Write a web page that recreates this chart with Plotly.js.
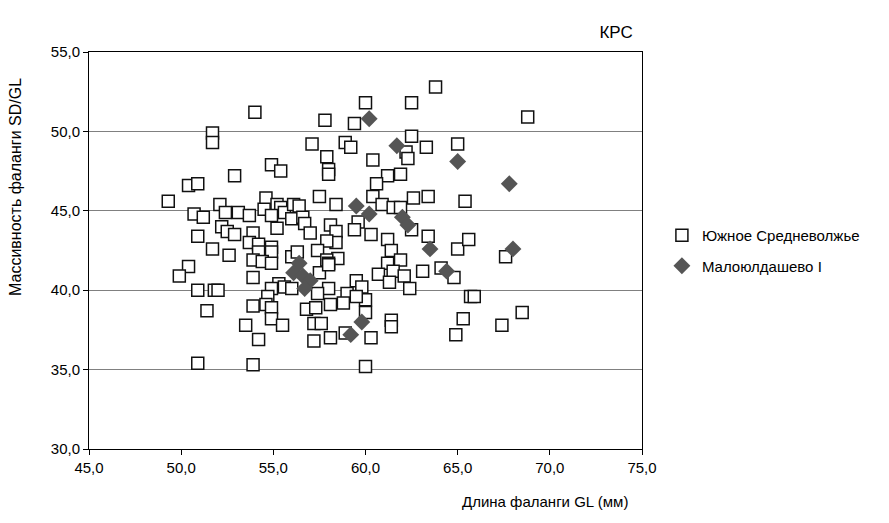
<!DOCTYPE html>
<html>
<head>
<meta charset="utf-8">
<script src="https://cdn.plot.ly/plotly-3.0.1.min.js"></script>
<style>html,body{margin:0;padding:0;background:#fff}#chart{width:889px;height:523px}</style>
</head>
<body>
<div id="chart"></div>
<script>
// Южное Средневолжье
var svX = [54.0,57.8,51.7,51.7,57.1,57.9,54.9,55.4,52.9,50.4,50.9,57.5,49.3,63.8,60.0,62.5,59.4,62.5,58.9,59.2,
62.2,62.3,63.3,65.0,58.0,58.0,60.4,61.2,61.9,60.6,60.4,62.6,63.4,65.4,68.8,52.1,54.6,55.2,55.4,55.6,
56.1,56.4,52.4,53.1,53.7,54.5,54.9,56.0,55.2,52.2,52.5,52.9,53.9,53.7,54.2,54.9,52.6,54.2,54.9,53.9,
54.4,54.9,56.0,50.7,51.2,50.9,51.7,50.4,49.9,56.6,56.7,57.0,58.4,58.1,58.4,59.6,59.4,58.4,57.9,56.3,
57.4,58.5,57.9,58.0,60.9,61.5,61.9,60.3,62.5,61.2,61.4,63.4,65.0,65.6,67.6,61.2,61.9,60.7,61.5,62.1,
61.3,63.1,64.1,64.8,59.5,59.8,58.0,59.0,58.1,58.8,60.0,60.0,62.4,65.7,65.9,53.9,55.3,55.6,56.0,54.9,
54.7,50.9,51.8,52.0,57.5,58.0,57.4,59.5,56.8,57.3,51.4,53.9,54.6,54.9,54.9,55.5,53.5,54.2,57.2,57.6,
57.2,58.1,58.9,61.4,61.4,65.3,67.4,68.5,64.9,60.3,60.0,50.9,53.9];
var svY = [51.2,50.7,49.9,49.3,49.2,48.4,47.9,47.5,47.2,46.6,46.7,45.9,45.6,52.8,51.8,51.8,50.5,49.7,49.3,49.0,
48.7,48.3,49.0,49.2,47.6,47.3,48.2,47.2,47.3,46.7,45.9,45.8,45.9,45.6,50.9,45.4,45.8,45.4,45.2,44.9,
45.4,45.3,44.9,44.9,44.7,45.1,44.7,44.5,43.9,44.0,43.7,43.5,43.6,43.0,42.9,42.7,42.2,42.4,42.4,41.9,
41.8,41.7,42.1,44.8,44.6,43.4,42.6,41.5,40.9,44.6,44.2,43.6,45.4,44.1,43.7,44.3,43.8,43.0,43.1,42.4,
42.5,42.0,41.9,41.7,45.4,45.2,45.2,43.5,43.8,43.2,42.5,43.4,42.6,43.2,42.1,41.7,41.9,41.0,41.2,40.9,
40.5,41.2,41.4,40.8,40.6,40.2,40.1,39.8,39.1,39.2,39.4,38.6,40.1,39.6,39.6,40.8,40.4,40.2,40.1,40.1,
39.6,40.0,40.0,40.0,41.1,41.6,39.8,39.6,38.8,38.9,38.7,39.0,39.1,38.9,38.2,37.8,37.8,36.9,37.9,37.9,
36.8,37.0,37.3,38.1,37.7,38.2,37.8,38.6,37.2,37.0,35.2,35.4,35.3];
// Малоюлдашево I
var mlX = [60.2,61.7,65.0,67.8,59.5,60.2,62.0,62.3,63.5,64.4,68.0,59.8,59.2,56.4,56.1,56.6,57.0,56.7];
var mlY = [50.8,49.1,48.1,46.7,45.3,44.8,44.6,44.1,42.6,41.2,42.6,38.0,37.2,41.7,41.1,40.9,40.6,40.1];
var seriesNames = ['Южное Средневолжье', 'Малоюлдашево I'];
var xTitle = 'Длина фаланги GL (мм)';
var yTitle = 'Массивность фаланги SD/GL';
var chartTitle = 'КРС';

var font = 'Arial, "Liberation Sans", sans-serif';
var traces = [
  {x: svX, y: svY, type: 'scatter', mode: 'markers', name: seriesNames[0], legendgroup: 'a',
   marker: {symbol: 'square', size: 12, color: '#ffffff', line: {color: '#111111', width: 1.5}}},
  {x: mlX, y: mlY, type: 'scatter', mode: 'markers', name: seriesNames[1], legendgroup: 'b',
   marker: {symbol: 'diamond', size: 13, color: '#555555', line: {width: 0}}}
];
var axisCommon = {showline: true, mirror: true, linecolor: '#000', linewidth: 1, ticks: 'outside',
  ticklen: 5, tickcolor: '#000', tickformat: '.1f', zeroline: false, automargin: false,
  tickfont: {family: font, size: 15, color: '#000'}};
var layout = {
  width: 889, height: 523,
  margin: {l: 89, r: 247, t: 52, b: 74, autoexpand: false},
  paper_bgcolor: '#fff', plot_bgcolor: '#fff',
  separators: ', ',
  showlegend: true,
  title: {text: chartTitle, font: {family: font, size: 17, color: '#000'}, xref: 'container', yref: 'container',
    x: 0.693, y: 0.939, xanchor: 'center', yanchor: 'middle'},
  xaxis: Object.assign({}, axisCommon, {range: [45, 75], dtick: 5, tick0: 45, showgrid: false}),
  yaxis: Object.assign({}, axisCommon, {range: [30, 55], dtick: 5, tick0: 30, showgrid: true, gridcolor: '#808080', gridwidth: 1}),
  legend: {x: 1.036, y: 0.5, xanchor: 'left', yanchor: 'middle', traceorder: 'grouped', tracegroupgap: 8,
    font: {family: font, size: 15, color: '#000'}, bgcolor: 'rgba(0,0,0,0)', itemwidth: 30},
  annotations: [
    {text: xTitle, xref: 'paper', yref: 'paper', x: 0.824, y: -0.1335, xanchor: 'center', yanchor: 'middle',
     showarrow: false, font: {family: font, size: 15, color: '#000'}},
    {text: yTitle, xref: 'paper', yref: 'paper', x: -0.132, y: 0.66, xanchor: 'center', yanchor: 'middle',
     textangle: -90, showarrow: false, font: {family: font, size: 16, color: '#000'}}
  ]
};
Plotly.newPlot('chart', traces, layout, {displayModeBar: false, staticPlot: true});
</script>
</body>
</html>
